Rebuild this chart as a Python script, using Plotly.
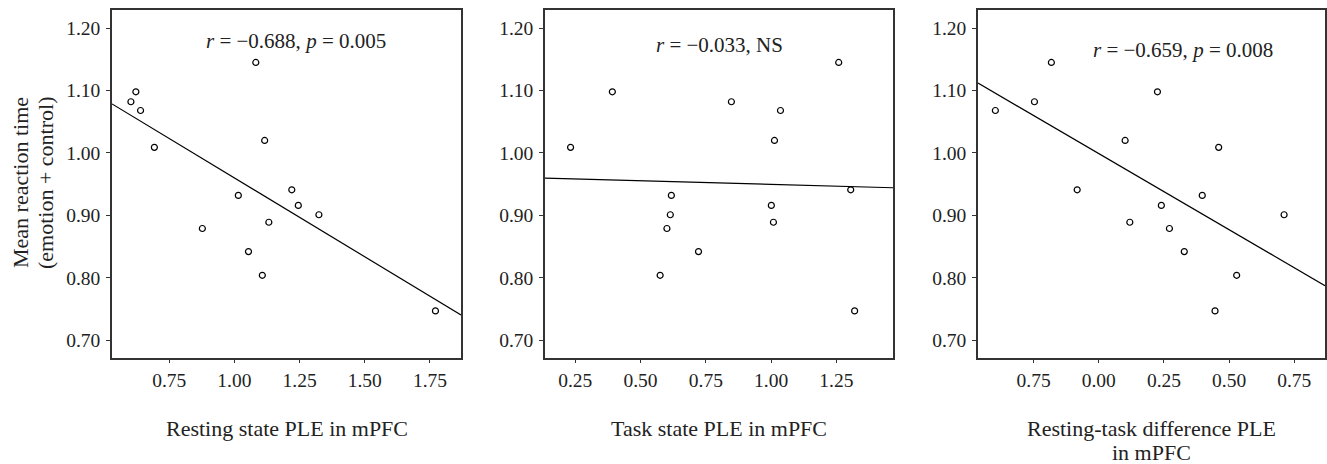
import numpy as np
import plotly.graph_objects as go

# ---- data ----
reaction_time = [1.145, 1.098, 1.082, 1.068, 1.020, 1.009, 0.941, 0.932,
                 0.916, 0.901, 0.889, 0.879, 0.842, 0.804, 0.747]
rest_ple = [1.082, 0.622, 0.603, 0.640, 1.116, 0.693, 1.220, 1.015,
            1.245, 1.324, 1.132, 0.877, 1.054, 1.107, 1.771]
task_ple = [1.259, 0.392, 0.848, 1.036, 1.013, 0.232, 1.305, 0.618,
            1.001, 0.614, 1.009, 0.601, 0.722, 0.575, 1.320]
diff_ple = [-0.182, 0.225, -0.247, -0.397, 0.101, 0.460, -0.083, 0.397,
            0.240, 0.711, 0.119, 0.271, 0.328, 0.529, 0.446]

x_titles = [["Resting state PLE in mPFC"], ["Task state PLE in mPFC"],
            ["Resting-task difference PLE", "in mPFC"]]
y_title_lines = ["Mean reaction time", "(emotion + control)"]
stats_text = ["<i>r</i> = \u22120.688, <i>p</i> = 0.005",
              "<i>r</i> = \u22120.033, NS",
              "<i>r</i> = \u22120.659, <i>p</i> = 0.008"]
y_tickvals = [0.70, 0.80, 0.90, 1.00, 1.10, 1.20]
y_ticktext = ["0.70", "0.80", "0.90", "1.00", "1.10", "1.20"]
x_tickvals = [[0.75, 1.00, 1.25, 1.50, 1.75],
              [0.25, 0.50, 0.75, 1.00, 1.25],
              [-0.25, 0.00, 0.25, 0.50, 0.75]]
x_ticktext = [["0.75", "1.00", "1.25", "1.50", "1.75"],
              ["0.25", "0.50", "0.75", "1.00", "1.25"],
              ["0.75", "0.00", "0.25", "0.50", "0.75"]]

# ---- layout geometry ----
W, H = 1327, 464
x_ranges = [[0.5305, 1.869], [0.134, 1.467], [-0.4636, 0.868]]
y_range = [0.672, 1.229]
x_domains_px = [(112, 461), (545, 893), (978, 1325)]
y_dom = [1 - 357.7 / H, 1 - 10 / H]
stat_pos = [(0.528, 0.912), (0.500, 0.900), (0.592, 0.886)]

FONT = "Liberation Serif"
TXT = "#222222"
fig = go.Figure()
xs_all = [rest_ple, task_ple, diff_ple]

for i, xs in enumerate(xs_all):
    ax = "" if i == 0 else str(i + 1)
    xa, ya = "x" + ax, "y" + ax
    fig.add_trace(go.Scatter(
        x=xs, y=reaction_time, mode="markers", xaxis=xa, yaxis=ya,
        marker=dict(symbol="circle-open", size=6, color="black",
                    line=dict(width=1.2, color="black")),
        showlegend=False))
    slope, intercept = np.polyfit(xs, reaction_time, 1)
    lx = np.array(x_ranges[i])
    fig.add_trace(go.Scatter(
        x=lx, y=intercept + slope * lx, mode="lines", xaxis=xa, yaxis=ya,
        line=dict(color="black", width=1.2), showlegend=False))

    d0, d1 = x_domains_px[i]
    axis_common = dict(showline=True, mirror=True, linecolor="#333333",
                       linewidth=1.5, ticks="outside", ticklen=4,
                       tickwidth=1.2, tickcolor="#333333", showgrid=False,
                       zeroline=False,
                       tickfont=dict(family=FONT, size=19.5, color=TXT))
    fig.layout["xaxis" + ax] = dict(
        domain=[d0 / W, d1 / W], range=x_ranges[i], anchor=ya,
        tickmode="array", tickvals=x_tickvals[i], ticktext=x_ticktext[i],
        **axis_common)
    fig.layout["yaxis" + ax] = dict(
        domain=y_dom, range=y_range, anchor=xa,
        tickmode="array", tickvals=y_tickvals, ticktext=y_ticktext,
        ticklabelstandoff=2, **axis_common)

    # stats annotation
    fig.add_annotation(
        text=stats_text[i], xref=xa + " domain", yref=ya + " domain",
        x=stat_pos[i][0], y=stat_pos[i][1], showarrow=False,
        xanchor="center", yanchor="middle",
        font=dict(family=FONT, size=21, color=TXT))
    # x-axis title (one annotation per line)
    cx = (d0 + d1) / 2 / W
    for k, line in enumerate(x_titles[i]):
        fig.add_annotation(
            text=line, xref="paper", yref="paper",
            x=cx, y=1 - (428 + 24 * k) / H, showarrow=False,
            xanchor="center", yanchor="middle",
            font=dict(family=FONT, size=22, color=TXT))

# y-axis title
for k, line in enumerate(y_title_lines):
    fig.add_annotation(
        text=line, xref="paper", yref="paper",
        x=(20 + 25 * k) / W, y=1 - 183 / H, textangle=-90,
        showarrow=False, xanchor="center", yanchor="middle",
        font=dict(family=FONT, size=22, color=TXT))

fig.update_layout(width=W, height=H, margin=dict(l=0, r=0, t=0, b=0),
                  paper_bgcolor="white", plot_bgcolor="white")

fig.write_html("out.html", config={"displayModeBar": False},
               post_script="document.body.style.margin='0';")
